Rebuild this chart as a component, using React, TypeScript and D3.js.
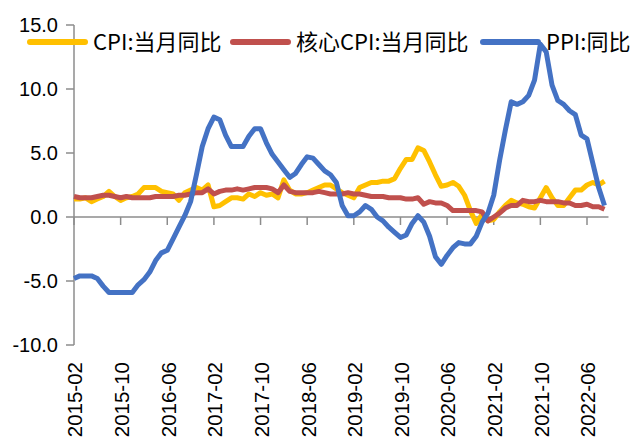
import React from "react";
import * as d3 from "d3";

const startYear = 2015;
const startMonth = 2; // 2015-02
const cpi = [
  1.4, 1.4, 1.5, 1.2, 1.4, 1.6, 2.0, 1.6, 1.3, 1.5, 1.6,
  1.8, 2.3, 2.3, 2.3, 2.0, 1.9, 1.8, 1.3, 1.9, 2.1, 2.3, 2.1,
  2.5, 0.8, 0.9, 1.2, 1.5, 1.5, 1.4, 1.8, 1.6, 1.9, 1.7, 1.8,
  1.5, 2.9, 2.1, 1.8, 1.8, 1.9, 2.1, 2.3, 2.5, 2.5, 2.2, 1.9,
  1.7, 1.5, 2.3, 2.5, 2.7, 2.7, 2.8, 2.8, 3.0, 3.8, 4.5, 4.5,
  5.4, 5.2, 4.3, 3.3, 2.4, 2.5, 2.7, 2.4, 1.7, 0.5, -0.5, 0.2,
  -0.3, -0.2, 0.4, 0.9, 1.3, 1.1, 1.0, 0.8, 0.7, 1.5, 2.3, 1.5,
  0.9, 0.9, 1.5, 2.1, 2.1, 2.5, 2.7, 2.5, 2.8,
];
const coreCpi = [
  1.6, 1.5, 1.5, 1.5, 1.6, 1.7, 1.7, 1.6, 1.5, 1.6, 1.5,
  1.5, 1.5, 1.5, 1.6, 1.6, 1.6, 1.6, 1.7, 1.7, 1.8, 1.9, 1.9,
  2.2, 1.8, 2.0, 2.1, 2.1, 2.2, 2.1, 2.2, 2.3, 2.3, 2.3, 2.2,
  1.9, 2.5, 2.0, 1.9, 1.9, 1.9, 1.9, 2.0, 1.9, 1.8, 1.8, 1.8,
  1.9, 1.8, 1.8, 1.7, 1.6, 1.6, 1.6, 1.5, 1.5, 1.5, 1.4, 1.4,
  1.5, 1.0, 1.2, 1.1, 1.1, 0.9, 0.5, 0.5, 0.5, 0.5, 0.5, 0.4,
  -0.3, 0.0, 0.3, 0.7, 0.9, 0.9, 1.3, 1.2, 1.2, 1.3, 1.2, 1.2,
  1.2, 1.1, 1.1, 0.9, 0.9, 1.0, 0.8, 0.8, 0.6,
];
const ppi = [
  -4.8, -4.6, -4.6, -4.6, -4.8, -5.4, -5.9, -5.9, -5.9, -5.9, -5.9,
  -5.3, -4.9, -4.3, -3.4, -2.8, -2.6, -1.7, -0.8, 0.1, 1.2, 3.3, 5.5,
  6.9, 7.8, 7.6, 6.4, 5.5, 5.5, 5.5, 6.3, 6.9, 6.9, 5.8, 4.9,
  4.3, 3.7, 3.1, 3.4, 4.1, 4.7, 4.6, 4.1, 3.6, 3.3, 2.7, 0.9,
  0.1, 0.1, 0.4, 0.9, 0.6, 0.0, -0.3, -0.8, -1.2, -1.6, -1.4, -0.5,
  0.1, -0.4, -1.5, -3.1, -3.7, -3.0, -2.4, -2.0, -2.1, -2.1, -1.5, -0.4,
  0.3, 1.7, 4.4, 6.8, 9.0, 8.8, 9.0, 9.5, 10.7, 13.5, 12.9, 10.3,
  9.1, 8.8, 8.3, 8.0, 6.4, 6.1, 4.2, 2.3, 0.9,
];
const yTicks = [-10, -5, 0, 5, 10, 15];
const labelEvery = 8;
const seriesNames = ["CPI:当月同比", "核心CPI:当月同比", "PPI:同比"];
const seriesColors = ["#FFC000", "#C0504D", "#4472C4"];

const n = ppi.length;
const months = d3.range(n).map((i) => {
  const m = startMonth - 1 + i;
  const y = startYear + Math.floor(m / 12);
  const mm = (m % 12) + 1;
  return `${y}-${String(mm).padStart(2, "0")}`;
});

export default function App() {
  const x = d3.scaleLinear().domain([0, 88]).range([74, 587]);
  const y = d3.scaleLinear().domain([-10, 15]).range([345, 25]);
  const line = d3
    .line<number>()
    .x((_, i) => x(i))
    .y((d) => y(d));
  const series = [cpi, coreCpi, ppi];
  const drawOrder = [0, 1, 2];
  const axisColor = "#8c8c8c";
  const font = "'Liberation Sans', Arial, sans-serif";
  const labelIdx = d3.range(0, n, labelEvery);
  const legendX = [30, 233, 483];
  return (
    <svg
      width={633}
      height={441}
      style={{ position: "absolute", left: 0, top: 0, background: "#fff" }}
    >
      {/* y axis */}
      <line x1={74} x2={74} y1={y(15)} y2={y(-10)} stroke={axisColor} strokeWidth={1.5} />
      {yTicks.map((t) => (
        <g key={t}>
          <line x1={66} x2={74} y1={y(t)} y2={y(t)} stroke={axisColor} strokeWidth={1.5} />
          <text
            x={58}
            y={y(t)}
            dy="0.36em"
            textAnchor="end"
            fontFamily={font}
            fontSize={20}
            fill="#000"
          >
            {t.toFixed(1)}
          </text>
        </g>
      ))}
      {/* x axis */}
      <line x1={74} x2={x(n - 1) + 4} y1={y(0)} y2={y(0)} stroke={axisColor} strokeWidth={1.5} />
      {labelIdx.map((i) => (
        <g key={i}>
          <line x1={x(i)} x2={x(i)} y1={y(0)} y2={y(0) + 8} stroke={axisColor} strokeWidth={1.5} />
          <text
            transform={`translate(${x(i) + 1},${362}) rotate(-90)`}
            dy="0.36em"
            textAnchor="end"
            fontFamily={font}
            fontSize={20.5}
            fill="#000"
          >
            {months[i]}
          </text>
        </g>
      ))}
      {/* lines */}
      {drawOrder.map((k) => (
        <path
          key={k}
          d={line(series[k]) || ""}
          fill="none"
          stroke={seriesColors[k]}
          strokeWidth={5}
          strokeLinejoin="round"
        />
      ))}
      {/* legend */}
      {seriesNames.map((name, k) => (
        <g key={name} transform={`translate(${legendX[k]},42)`}>
          <line x1={0} x2={55} y1={0} y2={0} stroke={seriesColors[k]} strokeWidth={6} strokeLinecap="round" />
          <text
            x={63}
            dy="0.36em"
            fontFamily="'Noto Sans CJK SC', sans-serif"
            fontSize={22}
            fill="#000"
          >
            {name}
          </text>
        </g>
      ))}
    </svg>
  );
}
